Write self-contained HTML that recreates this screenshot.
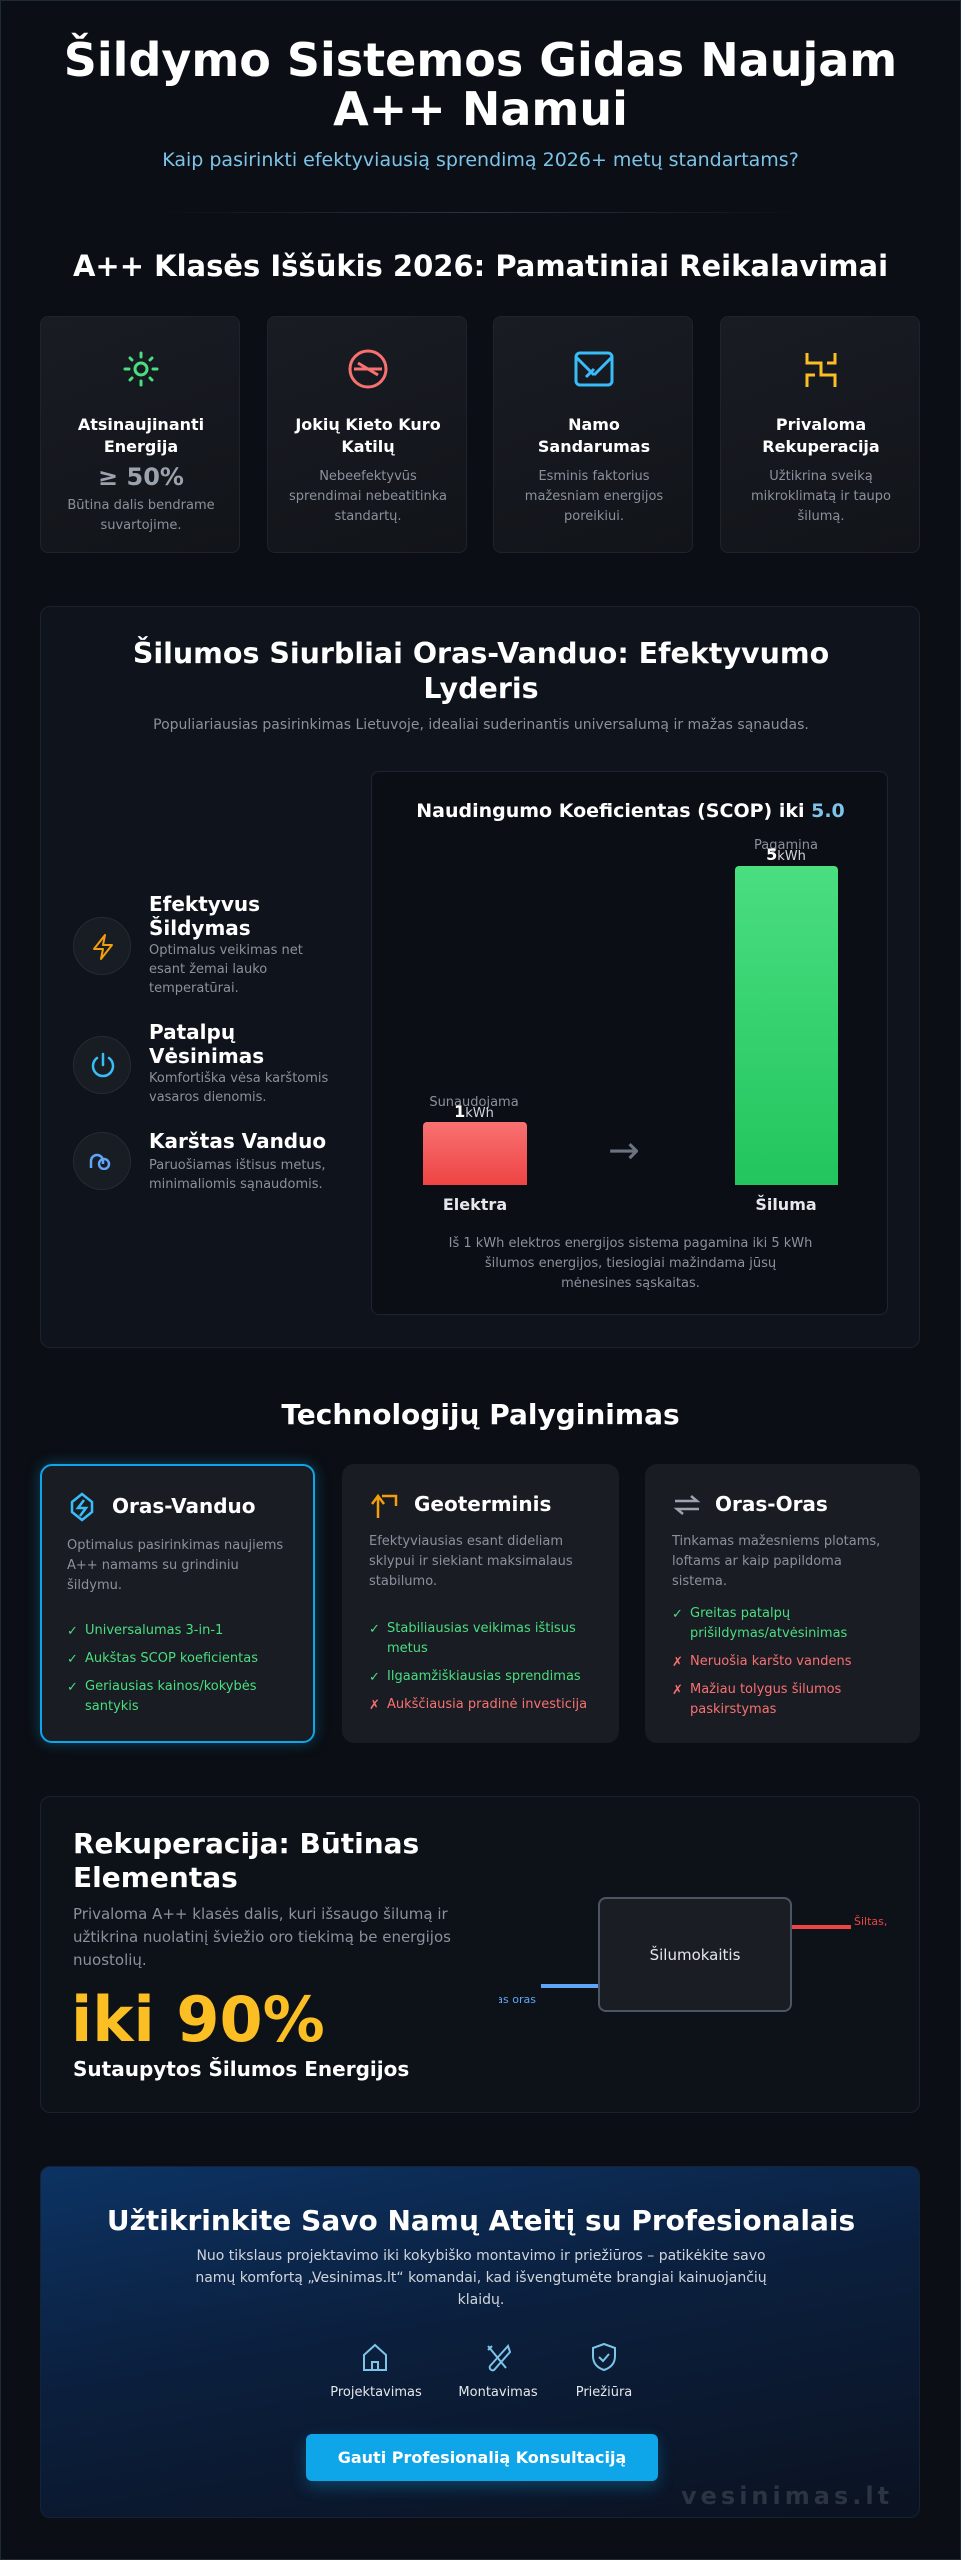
<!DOCTYPE html>
<html><head><meta charset="utf-8">
<style>
*{box-sizing:border-box;margin:0;padding:0}
body{width:961px;height:2560px;background:#0b0e14;font-family:"DejaVu Sans","Liberation Sans",sans-serif;color:#fff;position:relative;overflow:hidden}
.frame{position:absolute;left:0;top:0;width:961px;height:2560px;border:1px solid #1f2a37}
.a{position:absolute}
.c{text-align:center}
.card{position:absolute;background:linear-gradient(160deg,#191c23,#111419);border:1px solid #1e232c;border-radius:8px}
.ct{font-weight:bold;font-size:16px;line-height:22px}
.cd{font-size:13px;line-height:20px;color:#8b919c}
.panel{position:absolute;background:#0f131b;border:1px solid #1c222c;border-radius:10px}
.ic{position:absolute;width:58px;height:58px;border-radius:50%;background:#181c23;border:1px solid #262b33}
.ft{font-weight:bold;font-size:20px;line-height:24px}
.fd{font-size:13px;line-height:19px;color:#8b919c}
.tc{position:absolute;background:#191c23;border-radius:12px}
.th{font-weight:bold;font-size:20px}
.li{font-size:13px;line-height:20px;padding-left:18px;position:relative;margin-bottom:8px}
.li span{position:absolute;left:0;top:1px}
.g{color:#4ade80}.r{color:#f87171}
</style></head><body>
<div class="frame"></div>

<div class="a c" style="left:0;width:961px;top:36px;font-size:46px;font-weight:bold;line-height:49px">Šildymo Sistemos Gidas Naujam<br>A++ Namui</div>
<div class="a c" style="left:0;width:961px;top:149px;font-size:19px;color:#7cc4e8">Kaip pasirinkti efektyviausią sprendimą 2026+ metų standartams?</div>
<div class="a" style="left:150px;width:660px;top:212px;height:1px;background:linear-gradient(90deg,transparent,#2d3440,transparent)"></div>
<div class="a c" style="left:0;width:961px;top:249px;font-size:29px;font-weight:bold">A++ Klasės Iššūkis 2026: Pamatiniai Reikalavimai</div>

<div class="card" style="left:40px;top:316px;width:200px;height:237px">
 <svg class="a" style="left:80px;top:32px" width="40" height="40" viewBox="0 0 40 40" fill="none" stroke="#4ade80" stroke-width="3" stroke-linecap="round"><circle cx="20" cy="20" r="6"/><path d="M20 4v4M20 32v4M4 20h4M32 20h4M9 9l2 2M29 29l2 2M9 31l2-2M29 11l2-2"/></svg>
 <div class="a c ct" style="left:0;width:200px;top:97px">Atsinaujinanti<br>Energija</div>
 <div class="a c" style="left:0;width:200px;top:146px;font-size:24px;font-weight:bold;color:#9ca3af">≥ 50%</div>
 <div class="a c cd" style="left:0;width:200px;top:179px">Būtina dalis bendrame<br>suvartojime.</div>
</div>
<div class="card" style="left:267px;top:316px;width:200px;height:237px">
 <svg class="a" style="left:80px;top:32px" width="40" height="40" viewBox="0 0 40 40" fill="none" stroke="#f87171" stroke-width="3"><circle cx="20" cy="20" r="18"/><path d="M6 20h28M10 14l20 12"/></svg>
 <div class="a c ct" style="left:0;width:200px;top:97px">Jokių Kieto Kuro<br>Katilų</div>
 <div class="a c cd" style="left:0;width:200px;top:150px">Nebeefektyvūs<br>sprendimai nebeatitinka<br>standartų.</div>
</div>
<div class="card" style="left:493px;top:316px;width:200px;height:237px">
 <svg class="a" style="left:80px;top:34px" width="40" height="36" viewBox="0 0 40 36" fill="none" stroke="#38bdf8" stroke-width="3"><rect x="2" y="2" width="36" height="32" rx="4"/><path d="M2 6l18 18M38 6l-18 18M12 26l8-8"/></svg>
 <div class="a c ct" style="left:0;width:200px;top:97px">Namo<br>Sandarumas</div>
 <div class="a c cd" style="left:0;width:200px;top:150px">Esminis faktorius<br>mažesniam energijos<br>poreikiui.</div>
</div>
<div class="card" style="left:720px;top:316px;width:200px;height:237px">
 <svg class="a" style="left:82px;top:32px" width="36" height="40" viewBox="0 0 36 40" fill="none" stroke="#fbbf24" stroke-width="3"><path d="M4 4v10h14v12h14v12M32 4v10h-8M4 38v-12h8"/></svg>
 <div class="a c ct" style="left:0;width:200px;top:97px">Privaloma<br>Rekuperacija</div>
 <div class="a c cd" style="left:0;width:200px;top:150px">Užtikrina sveiką<br>mikroklimatą ir taupo<br>šilumą.</div>
</div>

<div class="panel" style="left:40px;top:606px;width:880px;height:742px">
 <div class="a c" style="left:0;width:880px;top:29px;font-size:28.5px;font-weight:bold;line-height:35px">Šilumos Siurbliai Oras-Vanduo: Efektyvumo<br>Lyderis</div>
 <div class="a c" style="left:0;width:880px;top:110px;font-size:14px;color:#8b919c">Populiariausias pasirinkimas Lietuvoje, idealiai suderinantis universalumą ir mažas sąnaudas.</div>

 <div class="ic" style="left:32px;top:310px"><svg class="a" style="left:17px;top:15px" width="24" height="28" viewBox="0 0 24 28" fill="none" stroke="#f59e0b" stroke-width="2" stroke-linejoin="round"><path d="M14 2L3 16h9l-2 10 11-14h-9z"/></svg></div>
 <div class="a ft" style="left:108px;top:285px">Efektyvus<br>Šildymas</div>
 <div class="a fd" style="left:108px;top:334px">Optimalus veikimas net<br>esant žemai lauko<br>temperatūrai.</div>

 <div class="ic" style="left:32px;top:429px"><svg class="a" style="left:15px;top:15px" width="28" height="28" viewBox="0 0 28 28" fill="none" stroke="#38bdf8" stroke-width="2.5" stroke-linecap="round"><path d="M14 2v11M8 6a10 10 0 1 0 12 0"/></svg></div>
 <div class="a ft" style="left:108px;top:413px">Patalpų<br>Vėsinimas</div>
 <div class="a fd" style="left:108px;top:462px">Komfortiška vėsa karštomis<br>vasaros dienomis.</div>

 <div class="ic" style="left:32px;top:525px"><svg class="a" style="left:15px;top:19px" width="28" height="18" viewBox="0 0 28 18" fill="none" stroke="#60a5fa" stroke-width="2.5"><path d="M2 16V9a6 6 0 0 1 12 0v3M10 12a5 5 0 1 0 10 0a5 5 0 1 0-10 0"/></svg></div>
 <div class="a ft" style="left:108px;top:522px">Karštas Vanduo</div>
 <div class="a fd" style="left:108px;top:549px">Paruošiamas ištisus metus,<br>minimaliomis sąnaudomis.</div>

 <div class="a" style="left:330px;top:164px;width:517px;height:544px;border:1px solid #1f2530;border-radius:8px;background:#0b0e14">
  <div class="a c" style="left:0;width:517px;top:28px;font-size:19px;font-weight:bold">Naudingumo Koeficientas (SCOP) iki <span style="color:#7cc4e8">5.0</span></div>
  <div class="a c" style="left:50px;width:104px;top:323px;font-size:13px;color:#8b919c">Sunaudojama</div>
  <div class="a c" style="left:50px;width:104px;top:330px;font-size:13px;color:#d1d5db"><b style="font-size:16px;color:#fff">1</b>kWh</div>
  <div class="a" style="left:51px;top:350px;width:104px;height:63px;border-radius:4px 4px 0 0;background:linear-gradient(#f87171,#ef4444)"></div>
  <div class="a c" style="left:51px;width:104px;top:423px;font-size:16px;font-weight:bold;color:#e5e7eb">Elektra</div>
  <div class="a" style="left:236px;top:356px;font-size:38px;color:#6b7280">→</div>
  <div class="a c" style="left:362px;width:104px;top:66px;font-size:13px;color:#8b919c">Pagamina</div>
  <div class="a c" style="left:362px;width:104px;top:73px;font-size:13px;color:#d1d5db"><b style="font-size:16px;color:#fff">5</b>kWh</div>
  <div class="a" style="left:363px;top:94px;width:103px;height:319px;border-radius:4px 4px 0 0;background:linear-gradient(#4ade80,#22c55e)"></div>
  <div class="a c" style="left:362px;width:104px;top:423px;font-size:16px;font-weight:bold;color:#e5e7eb">Šiluma</div>
  <div class="a c" style="left:0;width:517px;top:462px;font-size:13px;line-height:20px;color:#8b919c">Iš 1 kWh elektros energijos sistema pagamina iki 5 kWh<br>šilumos energijos, tiesiogiai mažindama jūsų<br>mėnesines sąskaitas.</div>
 </div>
</div>

<div class="a c" style="left:0;width:961px;top:1398px;font-size:28px;font-weight:bold">Technologijų Palyginimas</div>

<div class="tc" style="left:40px;top:1464px;width:275px;height:279px;border:2px solid #0ea5e9;box-shadow:0 0 14px rgba(14,165,233,.35)">
 <svg class="a" style="left:28px;top:26px" width="24" height="30" viewBox="0 0 24 30" fill="none" stroke="#38bdf8" stroke-width="2.5"><path d="M12 2l10 8v10l-10 8-10-8V10z M14 8l-6 8h8l-6 8"/></svg>
 <div class="a th" style="left:70px;top:28px">Oras-Vanduo</div>
 <div class="a cd" style="left:25px;top:70px">Optimalus pasirinkimas naujiems<br>A++ namams su grindiniu<br>šildymu.</div>
 <div class="a" style="left:25px;top:155px;width:240px">
  <div class="li g"><span>✓</span>Universalumas 3-in-1</div>
  <div class="li g"><span>✓</span>Aukštas SCOP koeficientas</div>
  <div class="li g"><span>✓</span>Geriausias kainos/kokybės santykis</div>
 </div>
</div>
<div class="tc" style="left:342px;top:1464px;width:277px;height:279px">
 <svg class="a" style="left:28px;top:28px" width="30" height="26" viewBox="0 0 30 26" fill="none" stroke="#f59e0b" stroke-width="2.5"><path d="M8 26V6M2 12l6-8 6 8M12 4h14v10"/></svg>
 <div class="a th" style="left:72px;top:28px">Geoterminis</div>
 <div class="a cd" style="left:27px;top:68px">Efektyviausias esant dideliam<br>sklypui ir siekiant maksimalaus<br>stabilumo.</div>
 <div class="a" style="left:27px;top:155px;width:240px">
  <div class="li g"><span>✓</span>Stabiliausias veikimas ištisus metus</div>
  <div class="li g"><span>✓</span>Ilgaamžiškiausias sprendimas</div>
  <div class="li r"><span>✗</span>Aukščiausia pradinė investicija</div>
 </div>
</div>
<div class="tc" style="left:645px;top:1464px;width:275px;height:279px">
 <svg class="a" style="left:28px;top:30px" width="28" height="22" viewBox="0 0 28 22" fill="none" stroke="#9ca3af" stroke-width="2.5"><path d="M2 7h22l-6-5M26 15H4l6 5"/></svg>
 <div class="a th" style="left:70px;top:28px">Oras-Oras</div>
 <div class="a cd" style="left:27px;top:68px">Tinkamas mažesniems plotams,<br>loftams ar kaip papildoma<br>sistema.</div>
 <div class="a" style="left:27px;top:140px;width:240px">
  <div class="li g"><span>✓</span>Greitas patalpų prišildymas/atvėsinimas</div>
  <div class="li r"><span>✗</span>Neruošia karšto vandens</div>
  <div class="li r"><span>✗</span>Mažiau tolygus šilumos paskirstymas</div>
 </div>
</div>

<div class="panel" style="left:40px;top:1796px;width:880px;height:317px;background:#0d1118">
 <div class="a" style="left:32px;top:30px;font-size:28px;font-weight:bold;line-height:34px">Rekuperacija: Būtinas<br>Elementas</div>
 <div class="a" style="left:32px;top:106px;font-size:15px;line-height:23px;color:#8b919c">Privaloma A++ klasės dalis, kuri išsaugo šilumą ir<br>užtikrina nuolatinį šviežio oro tiekimą be energijos<br>nuostolių.</div>
 <div class="a" style="left:30px;top:186px;font-size:62px;font-weight:bold;color:#fbbf24">iki 90%</div>
 <div class="a" style="left:32px;top:260px;font-size:20px;font-weight:bold">Sutaupytos Šilumos Energijos</div>
 <div class="a" style="left:458px;top:0;width:422px;height:317px;overflow:hidden">
  <div class="a" style="left:-40px;top:196px;width:77px;text-align:right;font-size:11px;color:#60a5fa">Šaltas oras</div>
  <div class="a" style="left:42px;top:187px;width:57px;height:4px;background:#60a5fa"></div>
  <div class="a" style="left:99px;top:100px;width:194px;height:115px;border:2px solid #4b5563;border-radius:8px;background:#1a1d24"></div>
  <div class="a c" style="left:99px;width:194px;top:149px;font-size:15px;color:#e5e7eb">Šilumokaitis</div>
  <div class="a" style="left:293px;top:128px;width:59px;height:4px;background:#ef4444"></div>
  <div class="a" style="left:355px;top:118px;font-size:11px;color:#ef4444">Šiltas,</div>
 </div>
</div>

<div class="a" style="left:40px;top:2166px;width:880px;height:352px;border-radius:10px;background:linear-gradient(170deg,#0c3363 0%,#0b1f3d 45%,#0b1220 100%);border:1px solid #13233a;overflow:hidden">
 <div class="a c" style="left:0;width:880px;top:37px;font-size:28px;font-weight:bold">Užtikrinkite Savo Namų Ateitį su Profesionalais</div>
 <div class="a c" style="left:0;width:880px;top:78px;font-size:14px;line-height:22px;color:#d1d5db">Nuo tikslaus projektavimo iki kokybiško montavimo ir priežiūros – patikėkite savo<br>namų komfortą „Vesinimas.lt“ komandai, kad išvengtumėte brangiai kainuojančių<br>klaidų.</div>
 <svg class="a" style="left:320px;top:175px" width="28" height="30" viewBox="0 0 28 30" fill="none" stroke="#7cc4e8" stroke-width="2"><path d="M3 13L14 3l11 10v15H3z M11 28v-8h6v8"/></svg>
 <div class="a c" style="left:285px;width:100px;top:218px;font-size:13px;color:#e5e7eb">Projektavimas</div>
 <svg class="a" style="left:443px;top:175px" width="28" height="30" viewBox="0 0 28 30" fill="none" stroke="#7cc4e8" stroke-width="2"><path d="M4 4l18 22M8 4l-4 4M24 4L6 24a3 3 0 0 0 4 4L26 10z"/></svg>
 <div class="a c" style="left:407px;width:100px;top:218px;font-size:13px;color:#e5e7eb">Montavimas</div>
 <svg class="a" style="left:549px;top:175px" width="28" height="30" viewBox="0 0 28 30" fill="none" stroke="#7cc4e8" stroke-width="2"><path d="M14 2l11 4v8c0 8-5 12-11 14C8 26 3 22 3 14V6z M9 15l4 4 6-7"/></svg>
 <div class="a c" style="left:513px;width:100px;top:218px;font-size:13px;color:#e5e7eb">Priežiūra</div>
 <div class="a c" style="left:265px;top:267px;width:352px;height:47px;border-radius:6px;background:#0ea5e9;font-size:16px;font-weight:bold;line-height:47px;box-shadow:0 6px 16px rgba(14,165,233,.3)">Gauti Profesionalią Konsultaciją</div>
 <div class="a" style="left:640px;top:315px;font-size:24px;font-weight:bold;letter-spacing:4px;color:#2b3441">vesinimas.lt</div>
</div>
</body></html>
